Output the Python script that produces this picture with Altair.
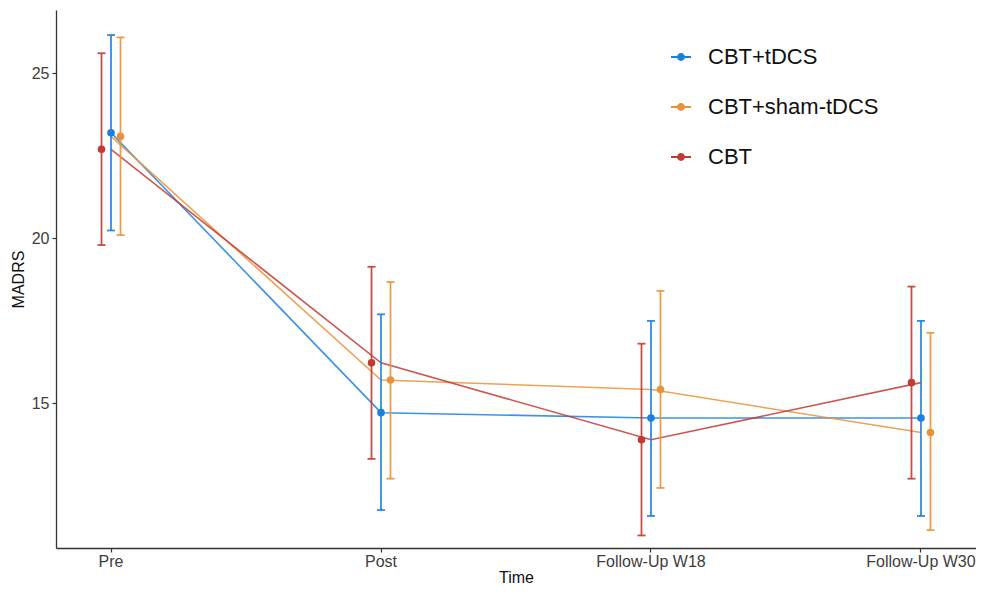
import altair as alt
import pandas as pd

times = ["Pre", "Post", "Follow-Up W18", "Follow-Up W30"]
groups = ["CBT+tDCS", "CBT+sham-tDCS", "CBT"]
dodge_order = ["CBT", "CBT+tDCS", "CBT+sham-tDCS"]
colors = ["#1b7fdd", "#e8923a", "#c13b32"]

tdcs_mean = [23.19, 14.71, 14.55, 14.55]
tdcs_lo = [20.23, 11.76, 11.58, 11.58]
tdcs_hi = [26.15, 17.69, 17.49, 17.49]

sham_mean = [23.08, 15.70, 15.41, 14.11]
sham_lo = [20.09, 12.71, 12.43, 11.15]
sham_hi = [26.08, 18.67, 18.40, 17.13]

cbt_mean = [22.69, 16.22, 13.89, 15.62]
cbt_lo = [19.79, 13.31, 10.99, 12.71]
cbt_hi = [25.60, 19.13, 16.80, 18.53]

means = [tdcs_mean, sham_mean, cbt_mean]
lows = [tdcs_lo, sham_lo, cbt_lo]
highs = [tdcs_hi, sham_hi, cbt_hi]

rows = []
for g, m, lo, hi in zip(groups, means, lows, highs):
    for i, t in enumerate(times):
        rows.append({"group": g, "time": t, "idx": i, "mean": m[i], "lo": lo[i], "hi": hi[i]})
df = pd.DataFrame(rows)

FONT = "Liberation Sans"

x_scale = alt.Scale(domain=times, paddingInner=0.8944, paddingOuter=0.151)
x_axis = alt.Axis(title="Time", labelAngle=0)
y_scale = alt.Scale(domain=[10.61, 26.91], nice=False, zero=False)
y_axis = alt.Axis(values=[15, 20, 25], title="MADRS")

def ring(r):
    return f"M{-r},0A{r},{r} 0 1,0 {r},0A{r},{r} 0 1,0 {-r},0Z"

legend_symbol = "M-1,0H1" + ring(0.3) + ring(0.2) + ring(0.1)

legend = alt.Legend(
    title=None,
    orient="none",
    legendX=614,
    legendY=36,
    symbolType=legend_symbol,
    symbolSize=400,
    symbolStrokeWidth=1.9,
    symbolOpacity=1,
    labelFontSize=22,
    labelFont=FONT,
    labelColor="#111111",
    labelOffset=16,
    labelLimit=400,
    rowPadding=28,
    padding=0,
)
color = alt.Color("group:N", scale=alt.Scale(domain=groups, range=colors), legend=legend)
color_nl = alt.Color("group:N", scale=alt.Scale(domain=groups, range=colors), legend=None)
xoff = alt.XOffset("group:N", scale=alt.Scale(domain=dodge_order, paddingInner=0, paddingOuter=0))

base = alt.Chart(df)

lines = base.mark_line(strokeWidth=1.6, opacity=0.85).encode(
    x=alt.X("time:N", scale=x_scale, axis=x_axis, sort=times),
    y=alt.Y("mean:Q", scale=y_scale, axis=y_axis),
    color=color,
    order=alt.Order("idx:Q"),
)

bars = base.mark_rule(strokeWidth=1.8, opacity=0.9).encode(
    x=alt.X("time:N", scale=x_scale, axis=x_axis, sort=times),
    xOffset=xoff,
    y=alt.Y("lo:Q", scale=y_scale, axis=y_axis),
    y2="hi:Q",
    color=color_nl,
)

caps_lo = base.mark_tick(size=8, thickness=1.8, opacity=0.9).encode(
    x=alt.X("time:N", scale=x_scale, axis=x_axis, sort=times),
    xOffset=xoff,
    y=alt.Y("lo:Q", scale=y_scale, axis=y_axis),
    color=color_nl,
)
caps_hi = base.mark_tick(size=8, thickness=1.8, opacity=0.9).encode(
    x=alt.X("time:N", scale=x_scale, axis=x_axis, sort=times),
    xOffset=xoff,
    y=alt.Y("hi:Q", scale=y_scale, axis=y_axis),
    color=color_nl,
)

points = base.mark_circle(size=58, opacity=1).encode(
    x=alt.X("time:N", scale=x_scale, axis=x_axis, sort=times),
    xOffset=xoff,
    y=alt.Y("mean:Q", scale=y_scale, axis=y_axis),
    color=color_nl,
)

chart = (
    alt.layer(lines, bars, caps_lo, caps_hi, points)
    .properties(
        width=920,
        height=538,
        autosize=alt.AutoSizeParams(type="none"),
        padding={"left": 48, "top": 2, "right": 0, "bottom": 38},
    )
    .configure_view(stroke=None)
    .configure_axis(
        grid=False,
        labelFont=FONT,
        titleFont=FONT,
        labelFontSize=16,
        labelColor="#3d3d3d",
        titleFontSize=16,
        titleFontWeight="normal",
        titleColor="#111111",
        domainColor="#333333",
        domainWidth=1.3,
        tickColor="#333333",
        tickSize=4,
        tickWidth=1.2,
    )
    .configure_axisX(labelPadding=1, titlePadding=0)
    .configure_axisY(labelPadding=3, titlePadding=5)
)

chart.save("out.html", embed_options={"renderer": "svg", "actions": False})
